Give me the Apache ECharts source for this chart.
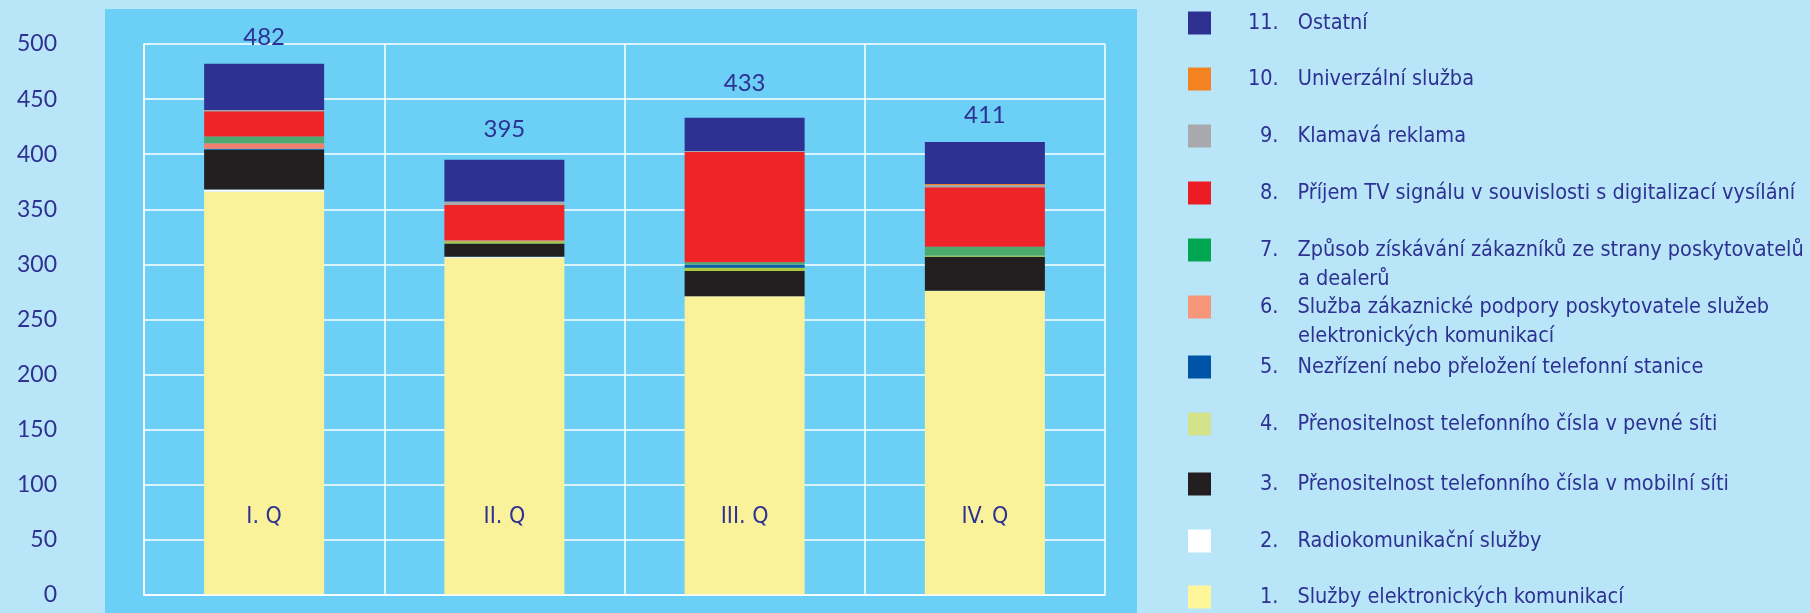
<!DOCTYPE html>
<html>
<head>
<meta charset="utf-8">
<script src="https://cdn.jsdelivr.net/npm/echarts@6/dist/echarts.min.js"></script>
<style>
  html, body { margin: 0; padding: 0; background: #b9e5f9; }
  #chart { width: 1810px; height: 613px; }
</style>
</head>
<body>
<div id="chart"></div>
<script>
// ctvrtleti a celkove pocty
const quarters = ['I. Q', 'II. Q', 'III. Q', 'IV. Q'];
const totals = [482, 395, 433, 411];

// hodnoty jednotlivych kategorii (odspodu nahoru)
const sluzbyEK = [366, 306, 271, 276];
const radio = [2, 1, 0, 0];
const mobilni = [36, 12, 23, 31];
const pevna = [0, 2, 3, 1];
const nezrizeni = [1, 0, 3, 0];
const podpora = [5, 1, 0, 0];
const zpusob = [6, 0, 2, 8];
const tvSignal = [23, 32, 100, 54];
const klamava = [1, 3, 1, 2];
const univerzalni = [0, 0, 0, 1];
const ostatni = [42, 38, 30, 38];

const yTicks = [0, 50, 100, 150, 200, 250, 300, 350, 400, 450, 500];

const names = [
  'Služby elektronických komunikací',
  'Radiokomunikační služby',
  'Přenositelnost telefonního čísla v mobilní síti',
  'Přenositelnost telefonního čísla v pevné síti',
  'Nezřízení nebo přeložení telefonní stanice',
  'Služba zákaznické podpory poskytovatele služeb\nelektronických komunikací',
  'Způsob získávání zákazníků ze strany poskytovatelů\na dealerů',
  'Příjem TV signálu v souvislosti s digitalizací vysílání',
  'Klamavá reklama',
  'Univerzální služba',
  'Ostatní'
];
const values = [sluzbyEK, radio, mobilni, pevna, nezrizeni, podpora, zpusob, tvSignal, klamava, univerzalni, ostatni];

const barColors = ['#faf19b', '#ffffff', '#231f20', '#a9c83e', '#0c5ea4', '#f27f6f',
  '#4daa6f', '#ee2428', '#a7a9ac', '#f58220', '#2e3192'];
const legendColors = ['#fff59a', '#ffffff', '#231f20', '#d4e28a', '#0054a6', '#f7977a',
  '#00a651', '#ed1c24', '#a7a9ac', '#f58220', '#2e3192'];

const textColor = '#2e3192';
const narrow = "'Liberation Sans Narrow', 'DejaVu Sans Condensed', 'Roboto Condensed', sans-serif";
const round = "Lato, 'Noto Sans', sans-serif";

// stred ikony legendy pro polozky 1..11
const legendCenters = [597, 541, 484, 424, 367, 307, 250, 193, 136, 79, 23];
// mezera mezi vrcholem sloupce a popiskem celku
const totalGap = [15, 18, 23, 15];

const chart = echarts.init(document.getElementById('chart'));

const series = names.map((name, k) => ({
  name: name,
  type: 'bar',
  stack: 'total',
  barWidth: 120,
  itemStyle: { color: barColors[k] },
  data: k === names.length - 1
    ? values[k].map((v, i) => ({ value: v, label: { distance: totalGap[i] } }))
    : values[k],
  label: k === names.length - 1 ? {
    show: true,
    position: 'top',
    formatter: p => totals[p.dataIndex],
    color: textColor,
    fontFamily: round,
    fontSize: 24
  } : { show: false }
}));

const lineH = 29;
const legendFont = { fontFamily: narrow, fontSize: 21.5, lineHeight: lineH, color: textColor };

const legends = names.map((name, k) => {
  const lines = name.split('\n');
  const numStyle = k + 1 >= 10 ? 'a' : 'b';
  let text = lines.map((line, i) =>
    i === 0 ? '{' + numStyle + '|' + (k + 1) + '.}{t|' + line + '}' : '{u|' + line + '}'
  ).join('\n');
  // prazdny radek navrch, aby ikona sedela u prvniho radku
  if (lines.length > 1) text = '\n' + text;
  const boxH = Math.max(23, text.split('\n').length * lineH);
  return {
    orient: 'vertical',
    left: 1188,
    top: legendCenters[k] - boxH / 2,
    padding: 0,
    itemWidth: 23,
    itemHeight: 23,
    icon: 'rect',
    selectedMode: false,
    data: [{ name: name, itemStyle: { color: legendColors[k] } }],
    formatter: () => text,
    textStyle: Object.assign({}, legendFont, {
      rich: {
        a: Object.assign({ padding: [0, 0, 0, 32] }, legendFont),
        b: Object.assign({ padding: [0, 0, 0, 44] }, legendFont),
        t: Object.assign({ padding: [0, 0, 0, 19] }, legendFont),
        u: Object.assign({ padding: [0, 0, 0, 82] }, legendFont)
      }
    })
  };
});

chart.setOption({
  backgroundColor: '#b9e5f9',
  animation: false,
  graphic: [{
    type: 'rect',
    left: 105,
    top: 9,
    z: -10,
    silent: true,
    shape: { width: 1032, height: 604 },
    style: { fill: '#6ccff6' }
  }],
  legend: legends,
  grid: { left: 144, right: 705, top: 44, bottom: 18 },
  xAxis: {
    type: 'category',
    data: quarters,
    axisLine: { lineStyle: { color: '#ffffff', width: 1.5 } },
    axisTick: { show: false },
    splitLine: { show: true, lineStyle: { color: '#ffffff', width: 1.5 } },
    axisLabel: {
      inside: true,
      margin: 66,
      color: textColor,
      fontFamily: narrow,
      fontSize: 23
    },
    z: 10
  },
  yAxis: {
    type: 'value',
    min: yTicks[0],
    max: yTicks[yTicks.length - 1],
    interval: 50,
    axisLine: { show: true, lineStyle: { color: '#ffffff', width: 1.5 } },
    axisTick: { show: false },
    splitLine: { lineStyle: { color: '#ffffff', width: 1.5 } },
    axisLabel: {
      margin: 87,
      color: textColor,
      fontFamily: round,
      fontSize: 23,
      padding: [16, 0, 0, 0]
    }
  },
  series: series
});
</script>
</body>
</html>
